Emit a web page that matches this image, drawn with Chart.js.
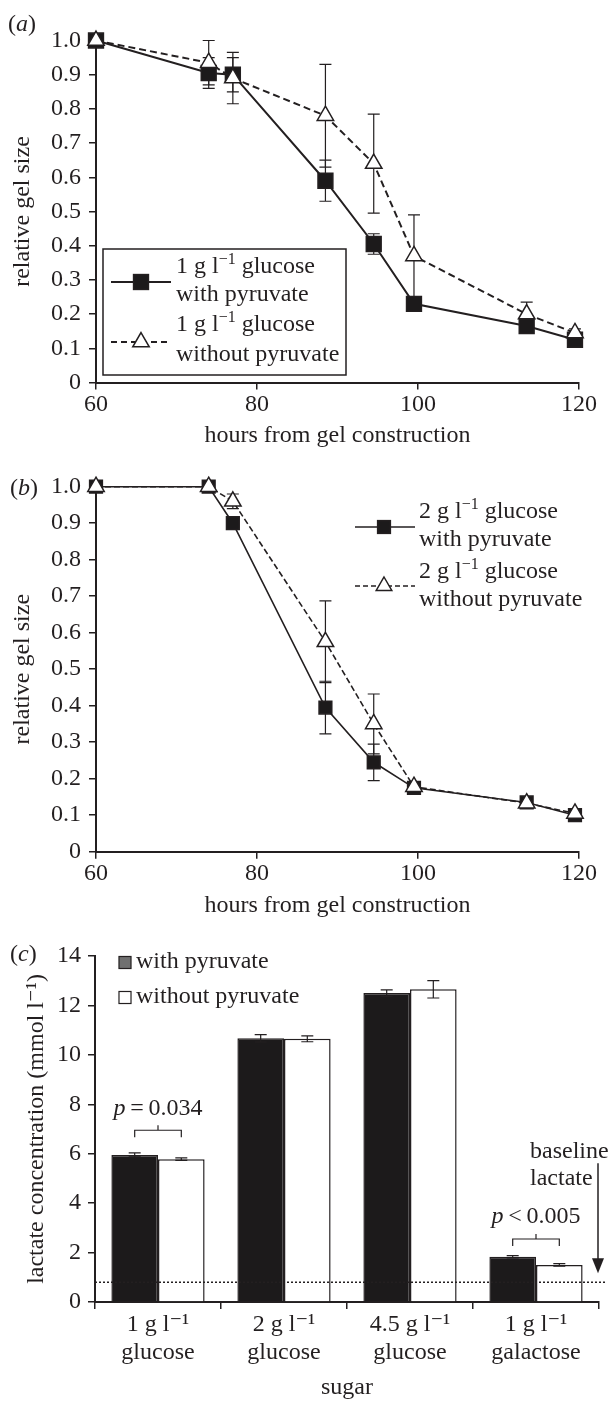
<!DOCTYPE html>
<html>
<head>
<meta charset="utf-8">
<script src="https://cdn.jsdelivr.net/npm/chart.js@4.4.1/dist/chart.umd.min.js"></script>
<style>
  html, body { margin: 0; padding: 0; background: #fff; }
  body { width: 609px; height: 1402px; position: relative; overflow: hidden; }
  canvas { position: absolute; left: 0; }
</style>
</head>
<body>
<canvas id="chartA" width="609" height="450" style="top:0px"></canvas>
<canvas id="chartB" width="609" height="470" style="top:450px"></canvas>
<canvas id="chartC" width="609" height="482" style="top:920px"></canvas>
<script>
// ---- data ----
const hours = [60, 74, 77, 88.5, 94.5, 99.5, 113.5, 119.5];
const hourTicks = [60, 80, 100, 120];
const sizeTicks = [0, 0.1, 0.2, 0.3, 0.4, 0.5, 0.6, 0.7, 0.8, 0.9, 1.0];

// (a) 1 g/l glucose
const glc1With = [1.0, 0.905, 0.90, 0.59, 0.405, 0.23, 0.165, 0.125];
const glc1WithErr = [0, 0.045, 0.05, 0.06, 0.03, 0.015, 0.012, 0.01];
const glc1Without = [1.0, 0.935, 0.89, 0.78, 0.64, 0.37, 0.20, 0.145];
const glc1WithoutErr = [0, 0.065, 0.075, 0.15, 0.145, 0.12, 0.035, 0.012];

// (b) 2 g/l glucose
const glc2With = [1.0, 1.0, 0.90, 0.395, 0.245, 0.175, 0.135, 0.10];
const glc2WithErr = [0, 0, 0.005, 0.072, 0.05, 0.01, 0.01, 0.01];
const glc2Without = [1.0, 1.0, 0.96, 0.575, 0.35, 0.178, 0.133, 0.105];
const glc2WithoutErr = [0, 0, 0.02, 0.112, 0.082, 0.01, 0.01, 0.01];

// (c) lactate
const sugars = [['1 g l\u207B\u00B9', 'glucose'], ['2 g l\u207B\u00B9', 'glucose'], ['4.5 g l\u207B\u00B9', 'glucose'], ['1 g l\u207B\u00B9', 'galactose']];
const lactateTicks = [0, 2, 4, 6, 8, 10, 12, 14];
const lactateWith = [5.95, 10.67, 12.5, 1.83];
const lactateWithErr = [0.08, 0.15, 0.13, 0.05];
const lactateWithout = [5.78, 10.65, 12.65, 1.5];
const lactateWithoutErr = [0.05, 0.12, 0.35, 0.05];
const baselineLactate = 0.8;
const pValues = ['0.034', null, null, '0.005'];
const pSigns = ['=', null, null, '<'];
const bracketLevels = [6.95, null, null, 2.55];

// ---- styling ----
const ink = '#231f20';
const serif = '"Liberation Serif", "Times New Roman", "DejaVu Serif", serif';
const tickFont = { family: serif, size: 24 };
const titleFont = { family: serif, size: 24 };

// text with italic / superscript pieces
function drawRich(ctx, parts, x, y, size, align) {
    const fontFor = k => (k === 'i' ? 'italic ' : '') + (k === 's' ? Math.round(size * 0.68) : size) + 'px ' + serif;
    let w = 0;
    parts.forEach(([t, k]) => { ctx.font = fontFor(k); w += ctx.measureText(t).width; });
    let cx = align === 'center' ? x - w / 2 : (align === 'right' ? x - w : x);
    ctx.textAlign = 'left';
    ctx.textBaseline = 'middle';
    ctx.fillStyle = ink;
    parts.forEach(([t, k]) => {
        ctx.font = fontFor(k);
        ctx.fillText(t, cx, k === 's' ? y - size * 0.3 : y);
        cx += ctx.measureText(t).width;
    });
}

function square(ctx, x, y, r, fill) {
    const h = r * Math.SQRT1_2;
    ctx.fillStyle = fill;
    ctx.fillRect(x - h, y - h, 2 * h, 2 * h);
    ctx.strokeRect(x - h, y - h, 2 * h, 2 * h);
}

function triangle(ctx, x, y, r) {
    ctx.beginPath();
    ctx.moveTo(x, y - r);
    ctx.lineTo(x + 0.866 * r, y + 0.5 * r);
    ctx.lineTo(x - 0.866 * r, y + 0.5 * r);
    ctx.closePath();
    ctx.fillStyle = '#fff';
    ctx.fill();
    ctx.stroke();
}

function panelLetter(ctx, letter, x, y) {
    drawRich(ctx, [['(', 'n'], [letter, 'i'], [')', 'n']], x, y, 24, 'left');
}

// error bars read from dataset.errors
const errorBars = {
    id: 'errorBars',
    beforeDatasetsDraw(chart, args, opts) { if (!opts.front) this.paint(chart); },
    afterDatasetsDraw(chart, args, opts) { if (opts.front) this.paint(chart); },
    paint(chart) {
        const ctx = chart.ctx;
        const yScale = chart.scales.y;
        ctx.save();
        ctx.strokeStyle = ink;
        ctx.lineWidth = 1.2;
        chart.data.datasets.forEach((ds, i) => {
            if (!ds.errors) return;
            chart.getDatasetMeta(i).data.forEach((el, j) => {
                const e = ds.errors[j];
                if (!e) return;
                const raw = ds.data[j];
                const v = typeof raw === 'object' ? raw.y : raw;
                const top = yScale.getPixelForValue(v + e);
                const bot = yScale.getPixelForValue(v - e);
                const c = 6;
                ctx.beginPath();
                ctx.moveTo(el.x, top); ctx.lineTo(el.x, bot);
                ctx.moveTo(el.x - c, top); ctx.lineTo(el.x + c, top);
                ctx.moveTo(el.x - c, bot); ctx.lineTo(el.x + c, bot);
                ctx.stroke();
            });
        });
        ctx.restore();
    }
};

function series(ys) {
    return hours.map((h, i) => ({ x: h, y: ys[i] }));
}

function lineScales(xAxisHeight) {
    return {
        x: {
            type: 'linear', min: 60, max: 120,
            afterFit: s => { s.height = xAxisHeight; },
            afterBuildTicks: s => { s.ticks = hourTicks.map(v => ({ value: v })); },
            ticks: { font: tickFont, color: ink, padding: 1, maxRotation: 0 },
            grid: { drawOnChartArea: false, tickLength: 7, color: ink, lineWidth: 1.5 },
            border: { color: ink, width: 2 },
            title: { display: true, text: 'hours from gel construction', font: titleFont, color: ink, padding: 0 }
        },
        y: {
            min: 0, max: 1,
            afterFit: s => { s.width = 96; },
            afterBuildTicks: s => { s.ticks = sizeTicks.map(v => ({ value: v })); },
            ticks: { font: tickFont, color: ink, padding: 8, callback: v => v === 0 ? '0' : v.toFixed(1) },
            grid: { drawOnChartArea: false, tickLength: 7, color: ink, lineWidth: 1.5 },
            border: { color: ink, width: 2 },
            title: { display: true, text: 'relative gel size', font: titleFont, color: ink, padding: { top: 8, bottom: 0 } }
        }
    };
}

// Panel (a)
const chartA = new Chart(document.getElementById('chartA'), {
    type: 'line',
    data: {
        datasets: [{
            label: '1 g/l glucose without pyruvate',
            data: series(glc1Without),
            errors: glc1WithoutErr,
            borderColor: ink, borderWidth: 2, borderDash: [7, 4],
            pointStyle: 'triangle', pointRadius: 9.5,
            pointBackgroundColor: '#fff', pointBorderColor: ink, pointBorderWidth: 1.5,
            order: 0, clip: false
        }, {
            label: '1 g/l glucose with pyruvate',
            data: series(glc1With),
            errors: glc1WithErr,
            borderColor: ink, borderWidth: 2,
            pointStyle: 'rect', pointRadius: 10.5,
            pointBackgroundColor: '#1c1a1b', pointBorderColor: ink, pointBorderWidth: 1.5,
            order: 1, clip: false
        }]
    },
    options: {
        responsive: false,
        animation: false,
        events: [],
        layout: { padding: { left: 0, right: 30, top: 40.5, bottom: 0 } },
        plugins: { legend: { display: false }, tooltip: { enabled: false }, errorBars: { front: false } },
        scales: lineScales(67.5)
    },
    plugins: [errorBars, {
        id: 'extrasA',
        afterDraw(chart) {
            const ctx = chart.ctx;
            ctx.save();
            panelLetter(ctx, 'a', 8, 25);
            ctx.strokeStyle = ink;
            ctx.lineWidth = 1.5;
            ctx.fillStyle = '#fff';
            ctx.fillRect(103, 249, 243, 126);
            ctx.strokeRect(103, 249, 243, 126);
            ctx.lineWidth = 2;
            ctx.beginPath(); ctx.moveTo(111, 282); ctx.lineTo(171, 282); ctx.stroke();
            ctx.setLineDash([6, 4]);
            ctx.beginPath(); ctx.moveTo(111, 342); ctx.lineTo(171, 342); ctx.stroke();
            ctx.setLineDash([]);
            ctx.lineWidth = 1.5;
            square(ctx, 141, 282, 10.5, '#1c1a1b');
            triangle(ctx, 141, 342, 9.5);
            drawRich(ctx, [['1 g l', 'n'], ['\u22121', 's'], [' glucose', 'n']], 176, 267, 24, 'left');
            drawRich(ctx, [['with pyruvate', 'n']], 176, 295, 24, 'left');
            drawRich(ctx, [['1 g l', 'n'], ['\u22121', 's'], [' glucose', 'n']], 176, 325, 24, 'left');
            drawRich(ctx, [['without pyruvate', 'n']], 176, 355, 24, 'left');
            ctx.restore();
        }
    }]
});

// Panel (b)
const chartB = new Chart(document.getElementById('chartB'), {
    type: 'line',
    data: {
        datasets: [{
            label: '2 g/l glucose without pyruvate',
            data: series(glc2Without),
            errors: glc2WithoutErr,
            borderColor: ink, borderWidth: 1.6, borderDash: [6, 3],
            pointStyle: 'triangle', pointRadius: 9.5,
            pointBackgroundColor: '#fff', pointBorderColor: ink, pointBorderWidth: 1.5,
            order: 0, clip: false
        }, {
            label: '2 g/l glucose with pyruvate',
            data: series(glc2With),
            errors: glc2WithErr,
            borderColor: ink, borderWidth: 1.6,
            pointStyle: 'rect', pointRadius: 9,
            pointBackgroundColor: '#1c1a1b', pointBorderColor: ink, pointBorderWidth: 1.5,
            order: 1, clip: false
        }]
    },
    options: {
        responsive: false,
        animation: false,
        events: [],
        layout: { padding: { left: 0, right: 30, top: 36.7, bottom: 0 } },
        plugins: { legend: { display: false }, tooltip: { enabled: false }, errorBars: { front: false } },
        scales: lineScales(68.3)
    },
    plugins: [errorBars, {
        id: 'extrasB',
        afterDraw(chart) {
            const ctx = chart.ctx;
            ctx.save();
            panelLetter(ctx, 'b', 10, 39);
            ctx.strokeStyle = ink;
            ctx.lineWidth = 1.6;
            ctx.beginPath(); ctx.moveTo(355, 77); ctx.lineTo(415, 77); ctx.stroke();
            ctx.setLineDash([5, 3]);
            ctx.beginPath(); ctx.moveTo(355, 136); ctx.lineTo(415, 136); ctx.stroke();
            ctx.setLineDash([]);
            ctx.lineWidth = 1.5;
            square(ctx, 384, 77, 9, '#1c1a1b');
            triangle(ctx, 384, 136, 9);
            drawRich(ctx, [['2 g l', 'n'], ['\u22121', 's'], [' glucose', 'n']], 419, 62, 24, 'left');
            drawRich(ctx, [['with pyruvate', 'n']], 419, 90, 24, 'left');
            drawRich(ctx, [['2 g l', 'n'], ['\u22121', 's'], [' glucose', 'n']], 419, 122, 24, 'left');
            drawRich(ctx, [['without pyruvate', 'n']], 419, 150, 24, 'left');
            ctx.restore();
        }
    }]
});

// Panel (c)
const chartC = new Chart(document.getElementById('chartC'), {
    type: 'bar',
    data: {
        labels: sugars,
        datasets: [{
            label: 'with pyruvate',
            data: lactateWith,
            errors: lactateWithErr,
            backgroundColor: '#1c1a1b', borderColor: ink, borderWidth: 1.5,
            barPercentage: 1, categoryPercentage: 0.74
        }, {
            label: 'without pyruvate',
            data: lactateWithout,
            errors: lactateWithoutErr,
            backgroundColor: '#fff', borderColor: ink, borderWidth: 1.5,
            barPercentage: 1, categoryPercentage: 0.74
        }]
    },
    options: {
        responsive: false,
        animation: false,
        events: [],
        layout: { padding: { left: 0, right: 10, top: 36, bottom: 0 } },
        plugins: { legend: { display: false }, tooltip: { enabled: false }, errorBars: { front: true } },
        scales: {
            x: {
                afterFit: s => { s.height = 100; },
                ticks: { font: { family: serif, size: 24, lineHeight: 1.2 }, color: ink, padding: 1, maxRotation: 0 },
                grid: { drawOnChartArea: false, tickLength: 7, color: ink, lineWidth: 1.5 },
                border: { color: ink, width: 2 },
                title: { display: true, text: 'sugar', font: titleFont, color: ink, padding: 0 }
            },
            y: {
                min: 0, max: 14,
                afterFit: s => { s.width = 95; },
                afterBuildTicks: s => { s.ticks = lactateTicks.map(v => ({ value: v })); },
                ticks: { font: tickFont, color: ink, padding: 7 },
                grid: { drawOnChartArea: false, tickLength: 7, color: ink, lineWidth: 1.5 },
                border: { color: ink, width: 2 },
                title: { display: true, text: 'lactate concentration (mmol l\u207B\u00B9)', font: titleFont, color: ink, padding: { top: 22, bottom: 0 } }
            }
        }
    },
    plugins: [errorBars, {
        id: 'extrasC',
        afterDraw(chart) {
            const ctx = chart.ctx;
            const area = chart.chartArea;
            const y = chart.scales.y;
            const m0 = chart.getDatasetMeta(0).data;
            const m1 = chart.getDatasetMeta(1).data;
            ctx.save();
            panelLetter(ctx, 'c', 10, 35);
            ctx.strokeStyle = ink;

            // legend
            ctx.lineWidth = 1.2;
            square(ctx, 125, 42.5, 8.5, '#707070');
            square(ctx, 125, 77.5, 8.5, '#fff');
            drawRich(ctx, [['with pyruvate', 'n']], 136, 42, 24, 'left');
            drawRich(ctx, [['without pyruvate', 'n']], 136, 77, 24, 'left');

            // baseline lactate (dotted)
            const yb = y.getPixelForValue(baselineLactate);
            ctx.lineWidth = 1.5;
            ctx.setLineDash([2, 2]);
            ctx.beginPath(); ctx.moveTo(area.left, yb); ctx.lineTo(area.right + 8, yb); ctx.stroke();
            ctx.setLineDash([]);

            // arrow + label
            const ax = area.right - 1;
            const tip = yb - 9;
            ctx.lineWidth = 1.5;
            ctx.beginPath(); ctx.moveTo(ax, tip - 110); ctx.lineTo(ax, tip - 12); ctx.stroke();
            ctx.fillStyle = ink;
            ctx.beginPath(); ctx.moveTo(ax - 6, tip - 15); ctx.lineTo(ax + 6, tip - 15); ctx.lineTo(ax, tip); ctx.closePath(); ctx.fill();
            drawRich(ctx, [['baseline', 'n']], ax - 68, tip - 122, 24, 'left');
            drawRich(ctx, [['lactate', 'n']], ax - 68, tip - 95, 24, 'left');

            // significance brackets
            ctx.lineWidth = 1.2;
            bracketLevels.forEach((lvl, i) => {
                if (lvl === null) return;
                const x1 = m0[i].x, x2 = m1[i].x, xm = (x1 + x2) / 2;
                const by = y.getPixelForValue(lvl);
                ctx.beginPath();
                ctx.moveTo(x1, by + 7); ctx.lineTo(x1, by); ctx.lineTo(x2, by); ctx.lineTo(x2, by + 7);
                ctx.moveTo(xm, by); ctx.lineTo(xm, by - 5);
                ctx.stroke();
                drawRich(ctx, [['p', 'i'], ['\u2009' + pSigns[i] + '\u2009' + pValues[i], 'n']], xm, by - 22, 24, 'center');
            });
            ctx.restore();
        }
    }]
});
</script>
</body>
</html>
